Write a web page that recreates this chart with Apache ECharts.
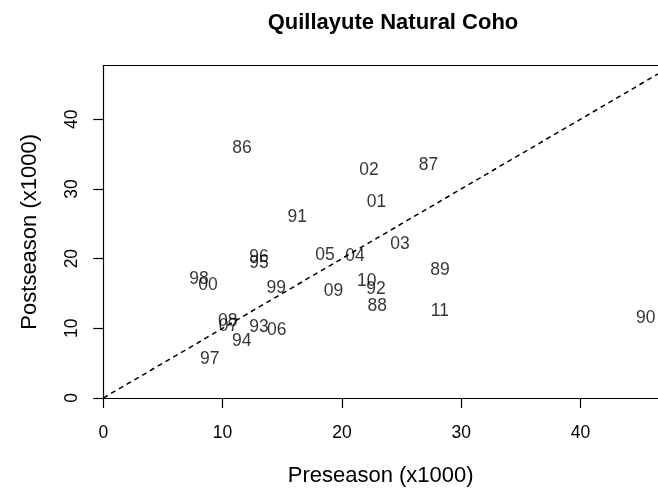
<!DOCTYPE html>
<html>
<head>
<meta charset="utf-8">
<script src="https://cdn.jsdelivr.net/npm/echarts@6/dist/echarts.min.js"></script>
<style>
html,body{margin:0;padding:0;background:#fff;}
#chart{width:658px;height:492px;}
</style>
</head>
<body>
<div id="chart"></div>
<script>
var years      = ['86','87','88','89','90','91','92','93','94','95','96','97','98','99','00','01','02','03','04','05','06','07','08','09','10','11'];
var preseason  = [11.63,27.26,22.97,28.22,45.47,16.26,22.86,13.05,11.60,13.05,13.05,8.92,8.02,14.50,8.78,22.90,22.27,24.87,21.10,18.58,14.53,10.49,10.43,19.30,22.08,28.22];
var postseason = [36.2,33.7,13.5,18.6,11.7,26.2,15.9,10.4,8.4,19.6,20.5,5.8,17.4,16.1,16.5,28.4,33.0,22.4,20.6,20.8,10.0,10.6,11.3,15.6,17.0,12.8];
var xTicks = [0,10,20,30,40];
var yTicks = [0,10,20,30,40];
var xMax = 46.5;
var yMax = 47.7;

var pts = years.map(function(y,i){ return [preseason[i], postseason[i], y]; });

var font = 'Liberation Sans, Arial, Helvetica, sans-serif';
var chart = echarts.init(document.getElementById('chart'), null, {renderer:'canvas'});
chart.setOption({
  animation:false,
  backgroundColor:'#fff',
  title:{
    text:'Quillayute Natural Coho',
    left:388, top:7, textAlign:'center',
    textStyle:{fontFamily:font, fontWeight:'bold', fontSize:22, color:'#000'}
  },
  grid:{left:103.3, top:65.6, right:0, bottom:92.5, show:false},
  xAxis:[{
    type:'value', min:0, max:xMax,
    name:'Preseason (x1000)', nameLocation:'middle', nameGap:67,
    nameTextStyle:{fontFamily:font, fontSize:22, color:'#000'},
    axisLine:{show:true, onZero:false, lineStyle:{color:'#000', width:1.2}},
    axisTick:{show:true, length:10, customValues:xTicks, lineStyle:{color:'#000', width:1.2}},
    axisLabel:{customValues:xTicks, margin:26, fontFamily:font, fontSize:17.5, color:'#000'},
    splitLine:{show:false}
  },{
    type:'value', min:0, max:xMax, position:'top',
    axisLine:{show:true, onZero:false, lineStyle:{color:'#000', width:1.2}},
    axisTick:{show:false}, axisLabel:{show:false}, splitLine:{show:false}
  }],
  yAxis:{
    type:'value', min:0, max:yMax,
    name:'Postseason (x1000)', nameLocation:'middle', nameGap:62, nameRotate:90,
    nameTextStyle:{fontFamily:font, fontSize:22, color:'#000'},
    axisLine:{show:true, onZero:false, lineStyle:{color:'#000', width:1.2}},
    axisTick:{show:true, length:10, customValues:yTicks, lineStyle:{color:'#000', width:1.2}},
    axisLabel:{customValues:yTicks, rotate:90, margin:22, fontFamily:font, fontSize:17.5, color:'#000'},
    splitLine:{show:false}
  },
  series:[
    {
      type:'line',
      data:[[0,0],[xMax,xMax]],
      symbol:'none',
      clip:true,
      lineStyle:{color:'#000', width:1.5, type:[5,4]},
      silent:true
    },
    {
      type:'scatter',
      data:pts,
      symbolSize:1,
      itemStyle:{color:'transparent'},
      label:{
        show:true, position:'inside', offset:[0,2],
        formatter:function(p){ return p.value[2]; },
        fontFamily:font, fontSize:17.5, color:'#000'
      }
    }
  ]
});
</script>
</body>
</html>
